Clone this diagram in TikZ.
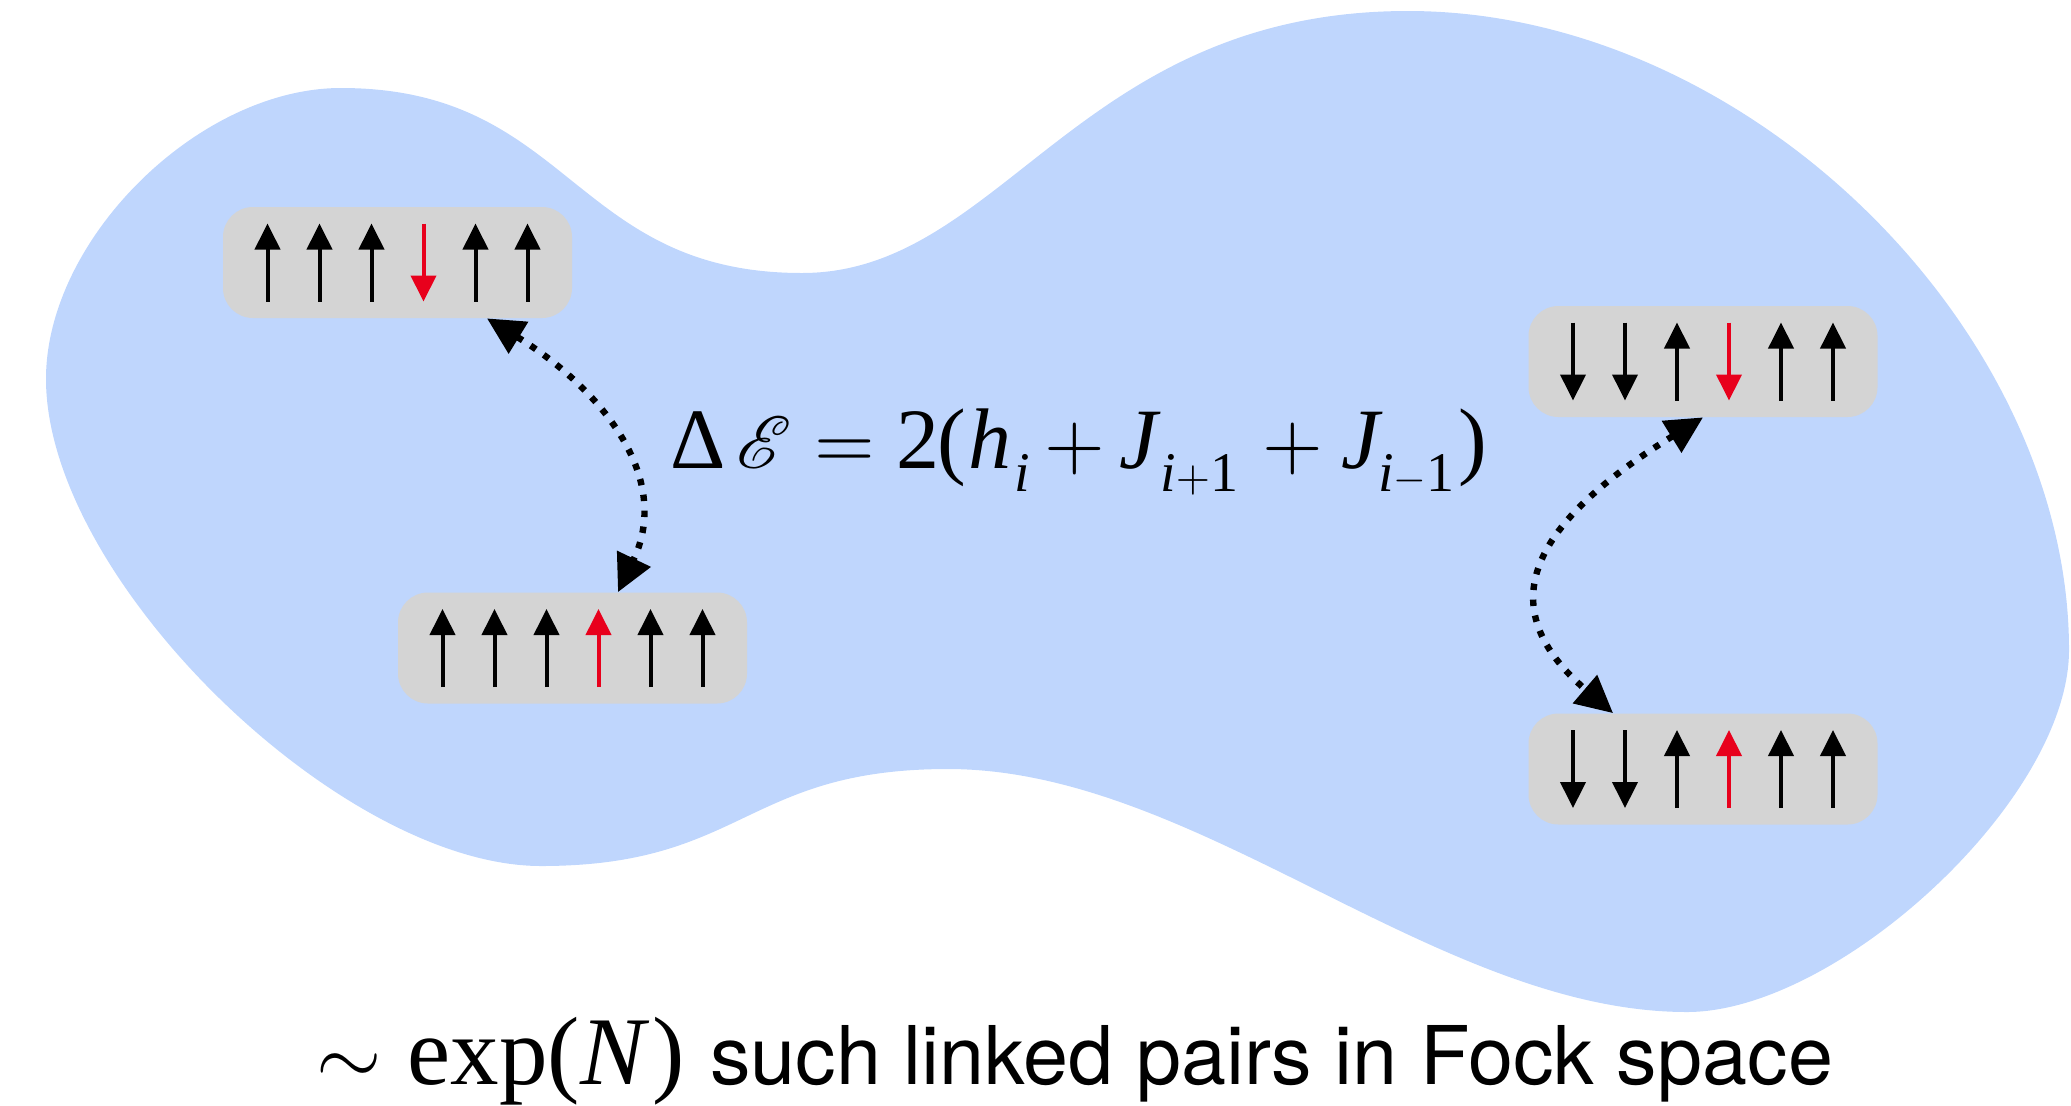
\documentclass[tikz,border=0pt]{standalone}
\usepackage{fontspec}
\setsansfont{TeX Gyre Heros}
\newfontfamily\tms{Liberation Serif}
\DeclareFontShape{OMS}{cmsy}{m}{n}{<-> cmsy10}{}
\DeclareFontShape{OT1}{cmr}{m}{n}{<-> cmr10}{}
\DeclareFontFamily{U}{rsfs}{\skewchar\font127 }
\DeclareFontShape{U}{rsfs}{m}{n}{<-> rsfs10}{}
\newcommand\scrE{{\fontsize{37}{40}\usefont{U}{rsfs}{m}{n}E}}
\newcommand\tsim{{\usefont{OMS}{cmsy}{m}{n}\char"18}}
\newcommand\cmeq{{\fontsize{39}{40}\usefont{OT1}{cmr}{m}{n}=}}
\newcommand\cmplus{{\fontsize{39}{40}\usefont{OT1}{cmr}{m}{n}+}}
\newcommand\subplus{{\fontsize{22}{24}\usefont{OT1}{cmr}{m}{n}+}}
\newcommand\subminus{{\fontsize{21}{24}\usefont{OMS}{cmsy}{m}{n}\char0}}
\newcommand\subs[1]{\raisebox{-0.27em}{\fontsize{28}{30}\selectfont #1}}
\newcommand\at[2]{\rlap{\hspace{#1pt}#2}}
\usetikzlibrary{arrows.meta}
\definecolor{blobblue}{RGB}{191,214,253}
\definecolor{boxgray}{RGB}{212,212,212}
\definecolor{spinred}{RGB}{232,0,28}
\begin{document}
\begin{tikzpicture}[x=0.5pt,y=-0.5pt,
  spinbox/.style={fill=boxgray, rounded corners=15pt, minimum width=174.5pt, minimum height=55.5pt, inner sep=0pt},
  spin/.style={line width=2pt, -{Triangle[length=13pt,width=12.5pt]}},
  flip/.style={spin, spinred},
  link/.style={line width=3.2pt, dash pattern=on 3.2pt off 4.8pt,
    {Triangle[length=18.5pt,width=18pt]}-{Triangle[length=18.5pt,width=18pt]}},
  bigtext/.style={font=\fontsize{43}{48}\selectfont}]
\useasboundingbox (0,0) rectangle (2071,1105);
% Fock-space blob
\fill[blobblue] (46,379) .. controls (46,239) and (199,88) .. (341,88)
  .. controls (571,88) and (572,273) .. (802,273)
  .. controls (1002,273) and (1078,11) .. (1408,11)
  .. controls (1748,11) and (2069,330) .. (2069,650)
  .. controls (2069,800) and (1837,1012) .. (1687,1012)
  .. controls (1437,1012) and (1198,769) .. (948,769)
  .. controls (745,769) and (744,866) .. (541,866)
  .. controls (341,866) and (46,579) .. (46,379) -- cycle;
% configuration boxes
\node[spinbox] (tl) at (397.5,262.5) {};
\node[spinbox] (bl) at (572.5,648) {};
\node[spinbox] (tr) at (1703,361.5) {};
\node[spinbox] (br) at (1703,769) {};
% spins
\begin{scope}[shift={(tl.center)}]
  \foreach \x in {-130,-78,-26,78,130} \draw[spin] (\x,39) -- (\x,-39);
  \draw[flip] (26,-39) -- (26,39);
\end{scope}
\begin{scope}[shift={(bl.center)}]
  \foreach \x in {-130,-78,-26,78,130} \draw[spin] (\x,39) -- (\x,-39);
  \draw[flip] (26,39) -- (26,-39);
\end{scope}
\begin{scope}[shift={(tr.center)}]
  \foreach \x in {-130,-78} \draw[spin] (\x,-39) -- (\x,39);
  \foreach \x in {-26,78,130} \draw[spin] (\x,39) -- (\x,-39);
  \draw[flip] (26,-39) -- (26,39);
\end{scope}
\begin{scope}[shift={(br.center)}]
  \foreach \x in {-130,-78} \draw[spin] (\x,-39) -- (\x,39);
  \foreach \x in {-26,78,130} \draw[spin] (\x,39) -- (\x,-39);
  \draw[flip] (26,39) -- (26,-39);
\end{scope}
% links
\draw[link] ([xshift=44.75pt]tl.south) .. controls (597,386) and (674,475) .. ([xshift=22.75pt]bl.north);
\draw[link] (tr.south) .. controls (1532,523) and (1487.6,605.75) .. ([xshift=-45pt]br.north);
% texts
\node[bigtext, anchor=base west, inner sep=0pt] (eq) at (669,468)
  {\tms\at{0}{Δ}\at{33}{\scrE}\at{72}{\cmeq}\at{113}{2}\at{133.5}{(}\at{149}{\textit{h}}%
   \at{172}{\subs{\textit{i}}}\at{187}{\cmplus}\at{224.5}{\textit{J}}\at{245}{\subs{\textit{i}\subplus1}}%
   \at{296}{\cmplus}\at{335.5}{\textit{J}}\at{354}{\subs{\textit{i}\subminus1}}\at{394}{)}\hspace{407pt}};
\node[anchor=base west, inner sep=0pt, font=\fontsize{42}{50}\selectfont] (caption) at (316,1084)
  {\tsim\hspace{13pt}{\fontsize{48.5}{50}\selectfont\tms exp(\textit{N\kern0.08em})}\hspace{0.3em}{\fontsize{40.5}{48}\selectfont\sffamily such linked pairs in Fock space}};
\end{tikzpicture}
\end{document}
